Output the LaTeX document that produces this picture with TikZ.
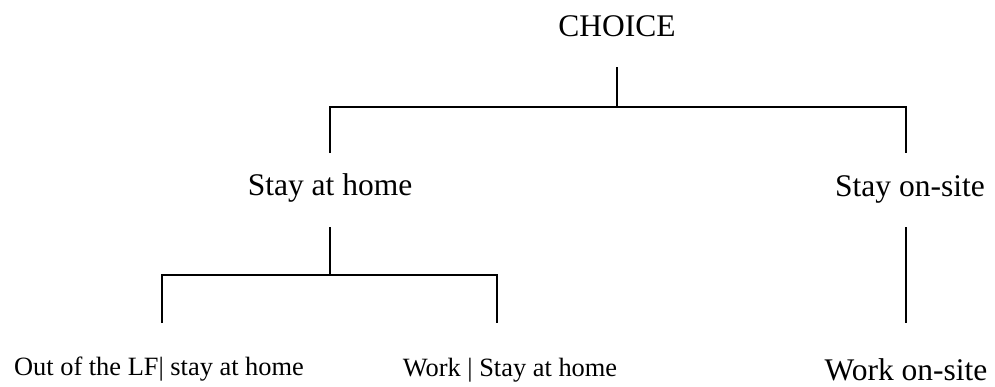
\documentclass[tikz,border=0pt]{standalone}
\usepackage{fontspec}
\setmainfont{Liberation Serif}
\usetikzlibrary{calc}

\begin{document}
\begin{tikzpicture}[x=1pt, y=-1pt,
  bigtext/.style   = {anchor=base, inner sep=0pt, font=\fontsize{31.5}{31.5}\selectfont},
  smalltext/.style = {anchor=base, inner sep=0pt, font=\fontsize{26.4}{26.4}\selectfont},
  branch/.style    = {line width=1.5pt}]
\useasboundingbox (0,0) rectangle (995,386);
\coordinate (C0) at (617,67);
\coordinate (C1) at (617,107);
\coordinate (HL) at (330,107);
\coordinate (HR) at (906,107);
\coordinate (HLd) at (330,153);
\coordinate (HRd) at (906,153);
\coordinate (S0) at (330,227);
\coordinate (S1) at (330,275);
\coordinate (LL) at (162,275);
\coordinate (LR) at (497,275);
\coordinate (LLd) at (162,323);
\coordinate (LRd) at (497,323);
\coordinate (R0) at (906,227);
\coordinate (R1) at (906,323);
\draw[branch] (C0)--(C1);
\draw[branch] (HLd)--(HL)--(HR)--(HRd);
\draw[branch] (S0)--(S1);
\draw[branch] (LLd)--(LL)--(LR)--(LRd);
\draw[branch] (R0)--(R1);
\node[bigtext]   (choice) at (617,36)  {CHOICE};
\node[bigtext]   (home)   at (330,195) {Stay at home};
\node[bigtext]   (onsite) at (910,196) {Stay on-site};
\node[smalltext] (outlf)  at (159,375) {Out of the LF| stay at home};
\node[smalltext] (workhome) at (510,376) {Work | Stay at home};
\node[bigtext]   (worksite) at (906,380) {Work on-site};
\end{tikzpicture}
\end{document}
